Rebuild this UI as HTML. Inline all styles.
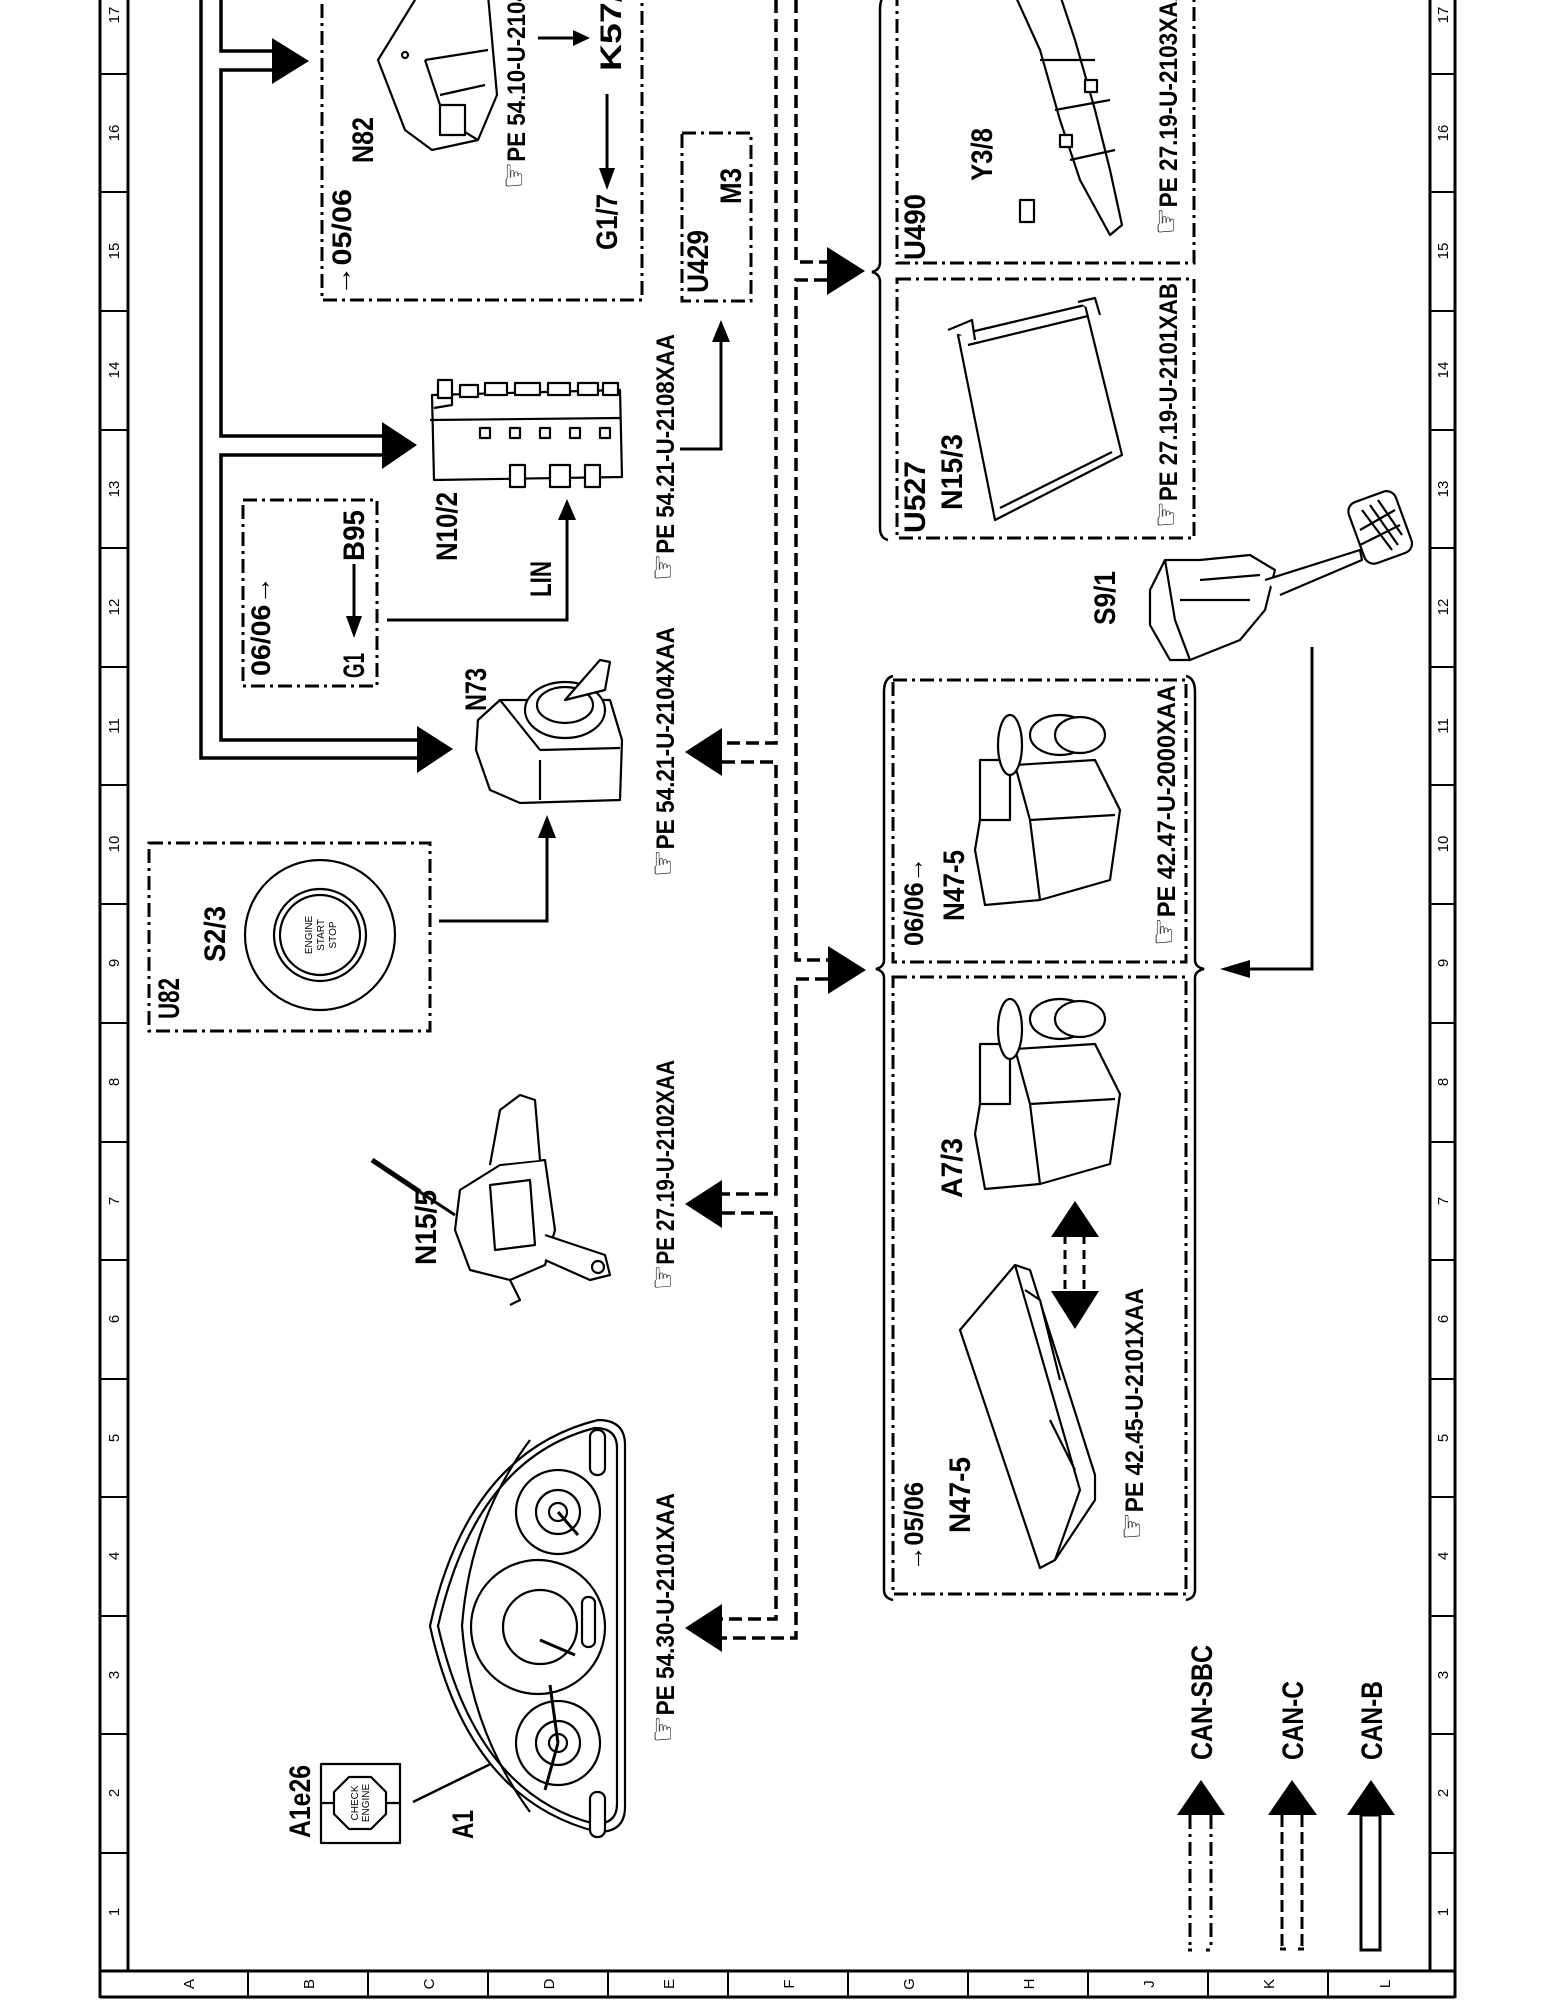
<!DOCTYPE html>
<html><head><meta charset="utf-8"><style>
html,body{margin:0;padding:0;background:#fff;}
svg{display:block;}
text{font-family:"Liberation Sans",sans-serif;fill:#000;}
.b{font-weight:bold;}
</style></head><body>
<svg width="1545" height="2000" viewBox="0 0 1545 2000" xmlns="http://www.w3.org/2000/svg">
<rect width="1545" height="2000" fill="#fff"/>

<!-- frame -->
<g stroke="#000" fill="none">
<line x1="100" y1="0" x2="100" y2="1998" stroke-width="3"/>
<line x1="128" y1="0" x2="128" y2="1972" stroke-width="3"/>
<line x1="1430" y1="0" x2="1430" y2="1972" stroke-width="3"/>
<line x1="1455" y1="0" x2="1455" y2="1998" stroke-width="3"/>
<line x1="100" y1="1971" x2="1455" y2="1971" stroke-width="3"/>
<line x1="100" y1="1997" x2="1455" y2="1997" stroke-width="3"/>
<g stroke-width="2">
<line x1="100" y1="74" x2="128" y2="74"/><line x1="1430" y1="74" x2="1455" y2="74"/>
<line x1="100" y1="192" x2="128" y2="192"/><line x1="1430" y1="192" x2="1455" y2="192"/>
<line x1="100" y1="311" x2="128" y2="311"/><line x1="1430" y1="311" x2="1455" y2="311"/>
<line x1="100" y1="430" x2="128" y2="430"/><line x1="1430" y1="430" x2="1455" y2="430"/>
<line x1="100" y1="548" x2="128" y2="548"/><line x1="1430" y1="548" x2="1455" y2="548"/>
<line x1="100" y1="667" x2="128" y2="667"/><line x1="1430" y1="667" x2="1455" y2="667"/>
<line x1="100" y1="785" x2="128" y2="785"/><line x1="1430" y1="785" x2="1455" y2="785"/>
<line x1="100" y1="904" x2="128" y2="904"/><line x1="1430" y1="904" x2="1455" y2="904"/>
<line x1="100" y1="1023" x2="128" y2="1023"/><line x1="1430" y1="1023" x2="1455" y2="1023"/>
<line x1="100" y1="1142" x2="128" y2="1142"/><line x1="1430" y1="1142" x2="1455" y2="1142"/>
<line x1="100" y1="1260" x2="128" y2="1260"/><line x1="1430" y1="1260" x2="1455" y2="1260"/>
<line x1="100" y1="1379" x2="128" y2="1379"/><line x1="1430" y1="1379" x2="1455" y2="1379"/>
<line x1="100" y1="1497" x2="128" y2="1497"/><line x1="1430" y1="1497" x2="1455" y2="1497"/>
<line x1="100" y1="1616" x2="128" y2="1616"/><line x1="1430" y1="1616" x2="1455" y2="1616"/>
<line x1="100" y1="1734" x2="128" y2="1734"/><line x1="1430" y1="1734" x2="1455" y2="1734"/>
<line x1="100" y1="1853" x2="128" y2="1853"/><line x1="1430" y1="1853" x2="1455" y2="1853"/>
<line x1="248" y1="1971" x2="248" y2="1997"/><line x1="368" y1="1971" x2="368" y2="1997"/>
<line x1="488" y1="1971" x2="488" y2="1997"/><line x1="608" y1="1971" x2="608" y2="1997"/>
<line x1="728" y1="1971" x2="728" y2="1997"/><line x1="848" y1="1971" x2="848" y2="1997"/>
<line x1="968" y1="1971" x2="968" y2="1997"/><line x1="1088" y1="1971" x2="1088" y2="1997"/>
<line x1="1208" y1="1971" x2="1208" y2="1997"/><line x1="1328" y1="1971" x2="1328" y2="1997"/>
</g></g>

<!-- margin numbers -->
<g font-size="15" fill="#333" text-anchor="middle">
<text transform="translate(119,15) rotate(-90)">17</text><text transform="translate(1448,15) rotate(-90)">17</text>
<text transform="translate(119,133) rotate(-90)">16</text><text transform="translate(1448,133) rotate(-90)">16</text>
<text transform="translate(119,251) rotate(-90)">15</text><text transform="translate(1448,251) rotate(-90)">15</text>
<text transform="translate(119,370) rotate(-90)">14</text><text transform="translate(1448,370) rotate(-90)">14</text>
<text transform="translate(119,489) rotate(-90)">13</text><text transform="translate(1448,489) rotate(-90)">13</text>
<text transform="translate(119,607) rotate(-90)">12</text><text transform="translate(1448,607) rotate(-90)">12</text>
<text transform="translate(119,726) rotate(-90)">11</text><text transform="translate(1448,726) rotate(-90)">11</text>
<text transform="translate(119,844) rotate(-90)">10</text><text transform="translate(1448,844) rotate(-90)">10</text>
<text transform="translate(119,963) rotate(-90)">9</text><text transform="translate(1448,963) rotate(-90)">9</text>
<text transform="translate(119,1082) rotate(-90)">8</text><text transform="translate(1448,1082) rotate(-90)">8</text>
<text transform="translate(119,1201) rotate(-90)">7</text><text transform="translate(1448,1201) rotate(-90)">7</text>
<text transform="translate(119,1319) rotate(-90)">6</text><text transform="translate(1448,1319) rotate(-90)">6</text>
<text transform="translate(119,1438) rotate(-90)">5</text><text transform="translate(1448,1438) rotate(-90)">5</text>
<text transform="translate(119,1556) rotate(-90)">4</text><text transform="translate(1448,1556) rotate(-90)">4</text>
<text transform="translate(119,1675) rotate(-90)">3</text><text transform="translate(1448,1675) rotate(-90)">3</text>
<text transform="translate(119,1793) rotate(-90)">2</text><text transform="translate(1448,1793) rotate(-90)">2</text>
<text transform="translate(119,1912) rotate(-90)">1</text><text transform="translate(1448,1912) rotate(-90)">1</text>
<text transform="translate(194,1984) rotate(-90)">A</text>
<text transform="translate(314,1984) rotate(-90)">B</text>
<text transform="translate(434,1984) rotate(-90)">C</text>
<text transform="translate(554,1984) rotate(-90)">D</text>
<text transform="translate(674,1984) rotate(-90)">E</text>
<text transform="translate(794,1984) rotate(-90)">F</text>
<text transform="translate(914,1984) rotate(-90)">G</text>
<text transform="translate(1034,1984) rotate(-90)">H</text>
<text transform="translate(1154,1984) rotate(-90)">J</text>
<text transform="translate(1274,1984) rotate(-90)">K</text>
<text transform="translate(1390,1984) rotate(-90)">L</text>
</g>

<!-- CAN-B solid bus -->
<g stroke="#000" stroke-width="3.5" fill="none">
<polyline points="201,0 201,758 418,758"/>
<polyline points="221,0 221,51 272,51"/>
<polyline points="272,70 221,70 221,436 382,436"/>
<polyline points="382,455 221,455 221,740 418,740"/>
</g>
<g fill="#000">
<polygon points="272,38 309,61 272,84"/>
<polygon points="382,422 417,445 382,469"/>
<polygon points="417,726 453,749 417,773"/>
</g>

<!-- CAN-C dashed bus -->
<g stroke="#000" stroke-width="3.5" fill="none" stroke-dasharray="13 6">
<polyline points="776,0 776,743 722,743"/>
<polyline points="722,762 776,762 776,1194 722,1194"/>
<polyline points="722,1213 776,1213 776,1619 722,1619"/>
<polyline points="796,0 796,262 827,262"/>
<polyline points="827,280 796,280 796,960 828,960"/>
<polyline points="828,979 796,979 796,1638 722,1638"/>
</g>
<g fill="#000">
<polygon points="722,728 685,752 722,776"/>
<polygon points="722,1180 685,1204 722,1228"/>
<polygon points="722,1604 685,1628 722,1652"/>
<polygon points="827,247 865,271 827,295"/>
<polygon points="828,946 866,970 828,994"/>
</g>

<!-- braces -->
<g stroke="#000" stroke-width="2.5" fill="none">
<path d="M888,-5 Q880,-5 880,10 L880,262 Q880,270 872,272 Q880,274 880,282 L880,528 Q880,538 888,540"/>
<path d="M893,676 Q884,678 884,692 L884,960 Q884,967 876,969 Q884,971 884,978 L884,1590 Q884,1598 893,1600"/>
<path d="M1186,676 Q1195,678 1195,692 L1195,960 Q1195,967 1204,969 Q1195,971 1195,978 L1195,1590 Q1195,1598 1186,1600"/>
</g>

<!-- dash-dot boxes -->
<g stroke="#000" stroke-width="3" fill="none" stroke-dasharray="14 5 3 5">
<rect x="322" y="-20" width="320" height="320"/>
<rect x="682" y="133" width="69" height="168"/>
<rect x="243" y="500" width="134" height="186"/>
<rect x="149" y="843" width="281" height="188"/>
<rect x="897" y="-20" width="297" height="283"/>
<rect x="897" y="279" width="297" height="259"/>
<rect x="893" y="680" width="293" height="282"/>
<rect x="893" y="977" width="293" height="617"/>
</g>

<!-- thin connectors -->
<g stroke="#000" stroke-width="3" fill="none">
<line x1="538" y1="38" x2="575" y2="38"/>
<line x1="607" y1="94" x2="607" y2="170"/>
<polyline points="680,449 721,449 721,340"/>
<line x1="354" y1="564" x2="354" y2="620"/>
<polyline points="387,620 567,620 567,518"/>
<polyline points="439,921 547,921 547,835"/>
<polyline points="1312,647 1312,969 1250,969"/>
<line x1="413" y1="1802" x2="560" y2="1730" stroke-width="2.5"/>
</g>
<g fill="#000">
<polygon points="573,30 590,38 573,46"/>
<polygon points="599,168 607,190 615,168"/>
<polygon points="712,342 721,320 730,342"/>
<polygon points="346,616 354,638 362,616"/>
<polygon points="558,520 567,499 576,520"/>
<polygon points="538,838 547,815 556,838"/>
<polygon points="1250,960 1220,969 1250,978"/>
</g>

<!-- A7/3 <-> N47-5 double arrow -->
<g stroke="#000" stroke-width="3" stroke-dasharray="9 6"><line x1="1065" y1="1235" x2="1065" y2="1293"/><line x1="1084" y1="1235" x2="1084" y2="1293"/></g>
<polygon points="1051,1237 1075,1201 1099,1237" fill="#000"/>
<polygon points="1051,1291 1075,1329 1099,1291" fill="#000"/>

<!-- devices -->
<g stroke="#000" stroke-width="2.2" fill="#fff" stroke-linejoin="round">
<!-- N82 -->
<path d="M378,60 L418,-5 L488,-5 L497,95 L478,140 L432,150 L405,130 Z"/>
<path d="M425,60 L445,120 L478,140 M425,60 L488,50 M440,95 L485,85"/>
<rect x="440" y="105" width="25" height="30"/>
<circle cx="405" cy="55" r="3"/>
<!-- N10/2 -->
<path d="M432,395 L620,390 L622,477 L434,480 Z"/>
<path d="M434,408 L452,405 L452,395 M430,420 L620,418"/>
<g fill="#fff"><rect x="438" y="380" width="14" height="18"/><rect x="460" y="385" width="18" height="12"/><rect x="485" y="383" width="22" height="12"/><rect x="515" y="383" width="25" height="12"/><rect x="548" y="383" width="22" height="12"/><rect x="578" y="383" width="20" height="12"/><rect x="603" y="383" width="15" height="12"/>
<rect x="480" y="428" width="10" height="10"/><rect x="510" y="428" width="10" height="10"/><rect x="540" y="428" width="10" height="10"/><rect x="570" y="428" width="10" height="10"/><rect x="600" y="428" width="10" height="10"/>
<rect x="510" y="465" width="15" height="22"/><rect x="550" y="465" width="20" height="22"/><rect x="585" y="465" width="15" height="22"/></g>
<!-- N73 -->
<path d="M478,720 L500,700 L610,700 L622,740 L620,800 L520,803 L490,790 L476,750 Z"/>
<path d="M540,750 L620,748 M540,760 L540,800 M500,700 L540,750"/>
<ellipse cx="565" cy="710" rx="40" ry="28"/>
<ellipse cx="565" cy="705" rx="28" ry="18"/>
<path d="M565,700 L600,660 L610,662 L605,690 Z"/>
<!-- S2/3 -->
<circle cx="320" cy="935" r="75"/><circle cx="320" cy="935" r="46"/><circle cx="320" cy="935" r="40"/>
<!-- N15/5 -->
<path d="M460,1190 L500,1165 L545,1160 L555,1230 L545,1265 L510,1280 L470,1270 L455,1230 Z"/>
<path d="M490,1185 L530,1180 L535,1245 L495,1250 Z"/>
<path d="M372,1160 L420,1192" stroke-width="5"/>
<path d="M420,1192 L455,1215" stroke-width="3"/>
<path d="M545,1235 L605,1255 L610,1275 L590,1280 L545,1260"/>
<circle cx="598" cy="1267" r="6"/>
<path d="M490,1165 L500,1110 L520,1095 L535,1100 L540,1160 M510,1280 L520,1300 L510,1305"/>
<!-- Y3/8 -->
<path d="M1015,-5 L1040,50 L1060,120 L1080,180 L1110,235 L1122,225 L1110,170 L1095,110 L1075,40 L1060,-5 Z"/>
<path d="M1040,60 L1095,60 M1055,110 L1110,100 M1070,160 L1115,150"/>
<rect x="1020" y="200" width="14" height="22"/><rect x="1060" y="135" width="12" height="12"/><rect x="1085" y="80" width="12" height="12"/>
<!-- N15/3 -->
<path d="M958,335 L1085,305 L1122,455 L995,520 Z"/>
<path d="M968,345 L1088,316 M1000,508 L1112,452 M948,330 L972,320 L975,340 M1078,302 L1095,298 L1100,315"/>
<!-- S9/1 pedal -->
<path d="M1150,590 L1165,560 L1200,560 L1250,555 L1275,570 L1265,610 L1240,640 L1190,660 L1170,660 L1150,625 Z"/>
<path d="M1165,560 L1175,620 L1190,660 M1180,600 L1250,600 M1200,580 L1260,575"/>
<path d="M1265,580 L1360,550 L1362,560 L1280,595"/>
<rect x="1355" y="495" width="50" height="65" rx="10" transform="rotate(-20 1380 527)"/>
<path d="M1362,510 L1392,550 M1370,505 L1398,545 M1378,500 L1402,535 M1360,530 L1395,510 M1360,545 L1400,525"/>
<!-- N47-5 06/06 and A7/3 -->
<path d="M975,850 L985,790 L1015,765 L1095,760 L1120,810 L1110,880 L1040,900 L985,905 Z"/>
<path d="M1015,765 L1030,820 L1040,900 M1030,820 L1115,815"/>
<rect x="980" y="760" width="30" height="60"/>
<ellipse cx="1010" cy="745" rx="12" ry="30"/><ellipse cx="1060" cy="735" rx="30" ry="20"/><ellipse cx="1080" cy="735" rx="25" ry="18"/>
<g transform="translate(0,284)">
<path d="M975,850 L985,790 L1015,765 L1095,760 L1120,810 L1110,880 L1040,900 L985,905 Z"/>
<path d="M1015,765 L1030,820 L1040,900 M1030,820 L1115,815"/>
<rect x="980" y="760" width="30" height="60"/>
<ellipse cx="1010" cy="745" rx="12" ry="30"/><ellipse cx="1060" cy="735" rx="30" ry="20"/><ellipse cx="1080" cy="735" rx="25" ry="18"/>
</g>
<!-- N47-5 05/06 -->
<path d="M960,1330 L1015,1265 L1030,1270 L1095,1475 L1095,1500 L1055,1560 L1040,1568 Z"/>
<path d="M1015,1265 L1080,1490 L1055,1560 M1025,1290 L1040,1300 L1060,1380 M1050,1420 L1075,1470"/>
<!-- A1 cluster -->
<path d="M598,1420 Q625,1420 625,1445 L625,1807 Q625,1832 598,1832 Q468,1800 430,1626 Q468,1452 598,1420 Z"/>
<path d="M595,1428 Q617,1428 617,1448 L617,1804 Q617,1824 595,1824 Q476,1794 438,1626 Q476,1458 595,1428 Z" fill="none"/>
<path d="M530,1440 Q470,1520 462,1626 Q470,1730 530,1812" fill="none"/>
<circle cx="558" cy="1512" r="42"/><circle cx="558" cy="1512" r="22"/><circle cx="558" cy="1512" r="9"/>
<circle cx="538" cy="1627" r="67"/><circle cx="540" cy="1627" r="37" fill="none"/>
<circle cx="558" cy="1743" r="42"/><circle cx="558" cy="1743" r="22"/><circle cx="558" cy="1743" r="9"/>
<rect x="582" y="1597" width="13" height="50" rx="6"/>
<rect x="590" y="1430" width="15" height="45" rx="7"/>
<rect x="590" y="1792" width="15" height="45" rx="7"/>
<path d="M558,1512 L578,1535 M540,1640 L575,1655 M558,1743 L550,1685 M558,1743 L545,1790" stroke-width="3" fill="none"/>
<!-- A1e26 -->
<rect x="321" y="1764" width="79" height="79"/>
<polygon points="349,1777 371,1777 386,1792 386,1814 371,1829 349,1829 334,1814 334,1792"/>
<path d="M321,1803 L334,1803 M386,1803 L400,1803" fill="none"/>
</g>
<g font-size="10" text-anchor="middle">
<text transform="translate(312,935) rotate(-90)">ENGINE</text>
<text transform="translate(324,935) rotate(-90)">START</text>
<text transform="translate(336,935) rotate(-90)">STOP</text>
<text transform="translate(358,1803) rotate(-90)">CHECK</text>
<text transform="translate(369,1803) rotate(-90)">ENGINE</text>
</g>

<!-- legend -->
<g fill="#000">
<polygon points="1177,1815 1201,1780 1225,1815"/>
<polygon points="1268,1815 1292,1780 1317,1815"/>
<polygon points="1347,1815 1371,1780 1395,1815"/>
</g>
<g stroke="#000" stroke-width="3" fill="none">
<g stroke-dasharray="14 5 3 5"><line x1="1190" y1="1815" x2="1190" y2="1950"/><line x1="1211" y1="1815" x2="1211" y2="1950"/></g>
<line x1="1188" y1="1950" x2="1213" y2="1950" stroke-dasharray="4 14"/>
<g stroke-dasharray="12 5"><line x1="1282" y1="1815" x2="1282" y2="1950"/><line x1="1302" y1="1815" x2="1302" y2="1950"/></g>
<line x1="1280" y1="1949" x2="1304" y2="1949" stroke-dasharray="6 12"/>
<rect x="1361" y="1815" width="19" height="135"/>
</g>

<!-- labels -->
<g class="b" font-size="30">
<text transform="translate(351,296) rotate(-90)" textLength="107" lengthAdjust="spacingAndGlyphs" font-size="27">→05/06</text>
<text transform="translate(373,163) rotate(-90)" textLength="46" lengthAdjust="spacingAndGlyphs">N82</text>
<text transform="translate(621,71) rotate(-90)" textLength="100" lengthAdjust="spacingAndGlyphs">K57/2</text>
<text transform="translate(617,250) rotate(-90)" textLength="56" lengthAdjust="spacingAndGlyphs">G1/7</text>
<text transform="translate(708,293) rotate(-90)" textLength="63" lengthAdjust="spacingAndGlyphs">U429</text>
<text transform="translate(741,204) rotate(-90)" textLength="36" lengthAdjust="spacingAndGlyphs">M3</text>
<text transform="translate(270,676) rotate(-90)" textLength="100" lengthAdjust="spacingAndGlyphs" font-size="27">06/06→</text>
<text transform="translate(364,678) rotate(-90)" textLength="25" lengthAdjust="spacingAndGlyphs">G1</text>
<text transform="translate(364,561) rotate(-90)" textLength="51" lengthAdjust="spacingAndGlyphs">B95</text>
<text transform="translate(551,597) rotate(-90)" textLength="36" lengthAdjust="spacingAndGlyphs">LIN</text>
<text transform="translate(457,561) rotate(-90)" textLength="69" lengthAdjust="spacingAndGlyphs">N10/2</text>
<text transform="translate(486,711) rotate(-90)" textLength="43" lengthAdjust="spacingAndGlyphs">N73</text>
<text transform="translate(179,1019) rotate(-90)" textLength="41" lengthAdjust="spacingAndGlyphs">U82</text>
<text transform="translate(225,962) rotate(-90)" textLength="56" lengthAdjust="spacingAndGlyphs">S2/3</text>
<text transform="translate(436,1265) rotate(-90)" textLength="75" lengthAdjust="spacingAndGlyphs">N15/5</text>
<text transform="translate(310,1838) rotate(-90)" textLength="73" lengthAdjust="spacingAndGlyphs">A1e26</text>
<text transform="translate(473,1839) rotate(-90)" textLength="29" lengthAdjust="spacingAndGlyphs">A1</text>
<text transform="translate(925,260) rotate(-90)" textLength="66" lengthAdjust="spacingAndGlyphs">U490</text>
<text transform="translate(992,181) rotate(-90)" textLength="53" lengthAdjust="spacingAndGlyphs">Y3/8</text>
<text transform="translate(925,533) rotate(-90)" textLength="72" lengthAdjust="spacingAndGlyphs">U527</text>
<text transform="translate(962,510) rotate(-90)" textLength="76" lengthAdjust="spacingAndGlyphs">N15/3</text>
<text transform="translate(1115,625) rotate(-90)" textLength="54" lengthAdjust="spacingAndGlyphs">S9/1</text>
<text transform="translate(923,946) rotate(-90)" textLength="89" lengthAdjust="spacingAndGlyphs" font-size="27">06/06→</text>
<text transform="translate(964,921) rotate(-90)" textLength="71" lengthAdjust="spacingAndGlyphs">N47-5</text>
<text transform="translate(962,1198) rotate(-90)" textLength="60" lengthAdjust="spacingAndGlyphs">A7/3</text>
<text transform="translate(923,1571) rotate(-90)" textLength="89" lengthAdjust="spacingAndGlyphs" font-size="27">→05/06</text>
<text transform="translate(970,1533) rotate(-90)" textLength="76" lengthAdjust="spacingAndGlyphs">N47-5</text>
<text transform="translate(1212,1760) rotate(-90)" textLength="115" lengthAdjust="spacingAndGlyphs">CAN-SBC</text>
<text transform="translate(1303,1760) rotate(-90)" textLength="79" lengthAdjust="spacingAndGlyphs">CAN-C</text>
<text transform="translate(1382,1760) rotate(-90)" textLength="79" lengthAdjust="spacingAndGlyphs">CAN-B</text>
</g>
<g class="b" font-size="25">
<text transform="translate(525,189) rotate(-90)" textLength="247" lengthAdjust="spacingAndGlyphs"><tspan font-family="DejaVu Sans" font-size="34">☞</tspan>PE  54.10-U-2104XAA</text>
<text transform="translate(674,581) rotate(-90)" textLength="247" lengthAdjust="spacingAndGlyphs"><tspan font-family="DejaVu Sans" font-size="34">☞</tspan>PE  54.21-U-2108XAA</text>
<text transform="translate(674,877) rotate(-90)" textLength="250" lengthAdjust="spacingAndGlyphs"><tspan font-family="DejaVu Sans" font-size="34">☞</tspan>PE  54.21-U-2104XAA</text>
<text transform="translate(674,1290) rotate(-90)" textLength="230" lengthAdjust="spacingAndGlyphs"><tspan font-family="DejaVu Sans" font-size="34">☞</tspan>PE  27.19-U-2102XAA</text>
<text transform="translate(674,1743) rotate(-90)" textLength="250" lengthAdjust="spacingAndGlyphs"><tspan font-family="DejaVu Sans" font-size="34">☞</tspan>PE  54.30-U-2101XAA</text>
<text transform="translate(1177,235) rotate(-90)" textLength="250" lengthAdjust="spacingAndGlyphs"><tspan font-family="DejaVu Sans" font-size="34">☞</tspan>PE  27.19-U-2103XAA</text>
<text transform="translate(1177,528) rotate(-90)" textLength="245" lengthAdjust="spacingAndGlyphs"><tspan font-family="DejaVu Sans" font-size="34">☞</tspan>PE  27.19-U-2101XAB</text>
<text transform="translate(1175,946) rotate(-90)" textLength="261" lengthAdjust="spacingAndGlyphs"><tspan font-family="DejaVu Sans" font-size="34">☞</tspan>PE  42.47-U-2000XAA</text>
<text transform="translate(1143,1540) rotate(-90)" textLength="252" lengthAdjust="spacingAndGlyphs"><tspan font-family="DejaVu Sans" font-size="34">☞</tspan>PE  42.45-U-2101XAA</text>
</g>
</svg>
</body></html>
